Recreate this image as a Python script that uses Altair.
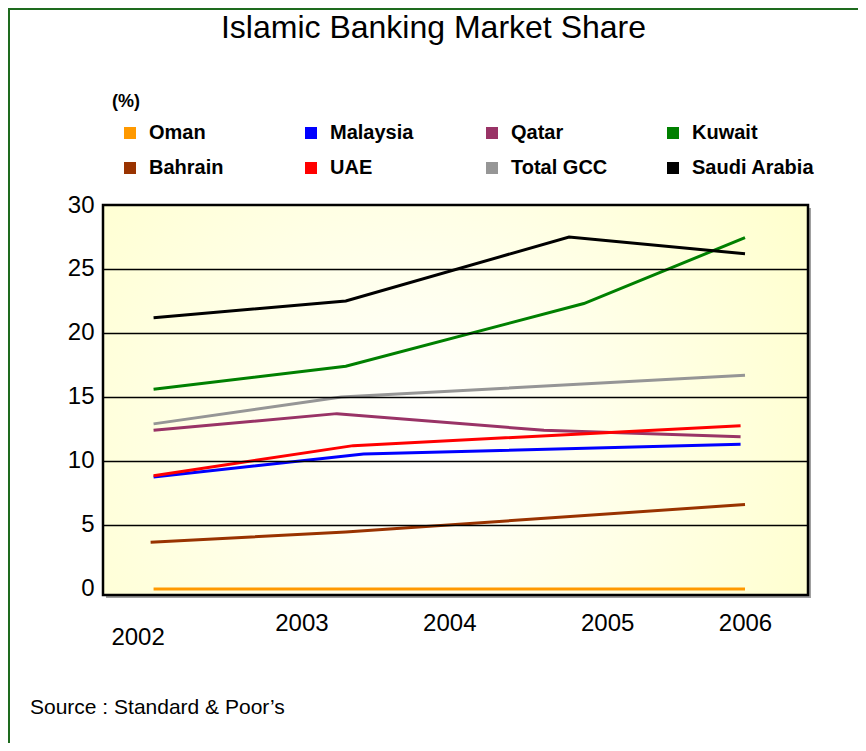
import altair as alt
import pandas as pd

# ---- data ----
series = ["Oman", "Malaysia", "Qatar", "Kuwait", "Bahrain", "UAE", "Total GCC", "Saudi Arabia"]
colors = ["#FF9900", "#0000FF", "#993366", "#008000", "#993300", "#FF0000", "#969696", "#000000"]

oman_x = [2002, 2006]
oman_y = [0.0, 0.0]
malaysia_x = [2002, 2003.42, 2005.97]
malaysia_y = [8.75, 10.55, 11.3]
qatar_x = [2002, 2003.24, 2004.64, 2005.97]
qatar_y = [12.4, 13.7, 12.4, 11.9]
kuwait_x = [2002, 2003.30, 2004.91, 2006]
kuwait_y = [15.6, 17.4, 22.3, 27.45]
bahrain_x = [2001.98, 2003.30, 2006]
bahrain_y = [3.65, 4.45, 6.6]
uae_x = [2002, 2003.35, 2005.97]
uae_y = [8.85, 11.2, 12.75]
gcc_x = [2002, 2003.27, 2006]
gcc_y = [12.9, 15.0, 16.7]
saudi_x = [2002, 2003.30, 2004.81, 2006]
saudi_y = [21.2, 22.5, 27.5, 26.2]

year_ticks = [2002, 2003, 2004, 2005, 2006]
value_ticks = [0, 5, 10, 15, 20, 25, 30]

pairs = {
    "Oman": (oman_x, oman_y),
    "Malaysia": (malaysia_x, malaysia_y),
    "Qatar": (qatar_x, qatar_y),
    "Kuwait": (kuwait_x, kuwait_y),
    "Bahrain": (bahrain_x, bahrain_y),
    "UAE": (uae_x, uae_y),
    "Total GCC": (gcc_x, gcc_y),
    "Saudi Arabia": (saudi_x, saudi_y),
}
rows = []
for s, (xs, ys) in pairs.items():
    for i, (xv, yv) in enumerate(zip(xs, ys)):
        rows.append({"series": s, "year": xv, "value": yv, "idx": i})
df = pd.DataFrame(rows)

W, H = 705, 390

gradient = alt.RadialGradient(
    gradient="radial",
    stops=[alt.GradientStop(offset=0, color="#FFFFFF"),
           alt.GradientStop(offset=1, color="#FFFFCC")],
    x1=0.45, y1=0.55, x2=0.45, y2=0.55, r1=0, r2=0.65,
)

shadow = alt.Chart().mark_rect(fill="#A0A0A0").encode(
    x=alt.value(3), x2=alt.value(W + 3), y=alt.value(3), y2=alt.value(H + 3))
bg = alt.Chart().mark_rect(fill=gradient, stroke="black", strokeWidth=2.5).encode(
    x=alt.value(0), x2=alt.value(W), y=alt.value(0), y2=alt.value(H))

lines = alt.Chart(df).mark_line(strokeWidth=3, strokeCap="butt").encode(
    x=alt.X("year:Q",
            scale=alt.Scale(domain=[2001.658, 2006.426], nice=False, zero=False),
            axis=alt.Axis(values=year_ticks, format="d", title=None, grid=False,
                          domain=False, ticks=False, labelFontSize=24,
                          labelColor="black",
                          labelPadding={"condition": {"test": "datum.value == 2002", "value": 30}, "value": 16},
                          labelOffset={"condition": [
                              {"test": "datum.value == 2002", "value": -16},
                              {"test": "datum.value == 2005", "value": 10}],
                              "value": 0},
                          labelFlush=False, labelOverlap=False)),
    y=alt.Y("value:Q",
            scale=alt.Scale(domain=[-0.47, 30], nice=False, zero=False),
            axis=alt.Axis(values=value_ticks, title=None, grid=True,
                          gridColor="black", gridWidth=1.5,
                          gridOpacity={"condition": {"test": "datum.value == 0 || datum.value == 30", "value": 0}, "value": 1},
                          domain=False, ticks=False, labelFontSize=24,
                          labelColor="black", labelPadding=9, zindex=1)),
    color=alt.Color("series:N",
                    scale=alt.Scale(domain=series, range=colors),
                    legend=alt.Legend(
                        title="(%)", orient="none", legendX=9, legendY=-112,
                        direction="horizontal", columns=4, gridAlign="all",
                        symbolType="square", symbolSize=36, symbolStrokeWidth=6,
                        symbolOffset=8, labelOffset=9, columnPadding=21,
                        rowPadding=5, labelFontSize=20, labelFontWeight="bold",
                        labelColor="black", titleFontSize=18, titleFontWeight="bold",
                        titleColor="black", titlePadding=12, padding=0,
                        labelLimit=300)),
    order="idx:Q",
    detail="series:N",
)

source = alt.Chart().mark_text(text="Source : Standard & Poor\u2019s", align="left",
                               baseline="middle", fontSize=21, color="black").encode(
    x=alt.value(-73), y=alt.value(503))

frame_left = alt.Chart().mark_rule(color="#1E6B1E", strokeWidth=2).encode(
    x=alt.value(-94), y=alt.value(-196), y2=alt.value(538))
frame_top = alt.Chart().mark_rule(color="#1E6B1E", strokeWidth=2).encode(
    x=alt.value(-95), x2=alt.value(755), y=alt.value(-196))

chart = alt.layer(shadow, bg, lines, source, frame_left, frame_top).properties(
    width=W, height=H,
    title=alt.TitleParams("Islamic Banking Market Share", fontSize=32,
                          fontWeight="normal", anchor="middle", frame="group",
                          baseline="bottom", dx=-22, offset=-69, color="black"),
    autosize=alt.AutoSizeParams(type="none"),
    padding={"left": 95, "top": 197, "right": 50, "bottom": 148},
).configure(font="Liberation Sans", background="white").configure_view(stroke=None)

chart.save("out.html", embed_options={"renderer": "svg", "actions": False})
